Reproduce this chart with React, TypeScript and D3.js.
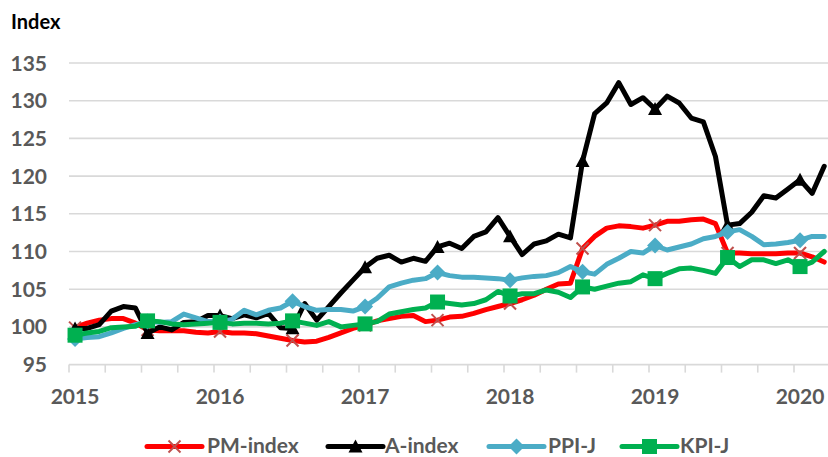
import React from "react";
import * as d3 from "d3";

// ---- data (monthly, Jan 2015 .. Mar 2020) ----
const years = ["2015", "2016", "2017", "2018", "2019", "2020"];
const yTicks = [95, 100, 105, 110, 115, 120, 125, 130, 135];

const pmIndex = [
  99.9, 100.5, 100.9, 101.1, 101.1, 100.5, 99.6, 99.5, 99.5, 99.5, 99.3, 99.2,
  99.4, 99.2, 99.2, 99.1, 98.8, 98.5, 98.2, 98.0, 98.1, 98.6, 99.2, 99.8,
  100.2, 100.8, 101.1, 101.4, 101.5, 100.7, 100.9, 101.3, 101.4, 101.8, 102.3, 102.7,
  103.1, 103.6, 104.2, 105.0, 105.7, 105.8, 110.4, 112.0, 113.1, 113.4, 113.3, 113.1,
  113.5, 114.0, 114.0, 114.2, 114.3, 113.7, 109.8, 109.8, 109.7, 109.7, 109.7, 109.8,
  109.8, 109.3, 108.6,
];
const aIndex = [
  99.8, 99.8, 100.3, 102.1, 102.7, 102.5, 99.2, 100.0, 99.6, 100.6, 100.7, 101.5,
  101.5, 101.1, 101.6, 101.2, 101.8, 99.9, 99.8, 103.1, 100.9, 102.7, 104.5, 106.2,
  107.9, 109.1, 109.5, 108.6, 109.1, 108.7, 110.6, 111.1, 110.4, 112.0, 112.6, 114.5,
  112.0, 109.6, 111.0, 111.4, 112.3, 111.8, 122.0, 128.3, 129.7, 132.4, 129.5, 130.4,
  128.9, 130.6, 129.7, 127.7, 127.2, 122.6, 113.5, 113.7, 115.2, 117.4, 117.1, 118.3,
  119.5, 117.7, 121.3,
];
const ppiJ = [
  98.4, 98.6, 98.7, 99.2, 99.8, 100.3, 100.7, 100.6, 100.7, 101.7, 101.2, 100.7,
  100.7, 101.0, 102.2, 101.6, 102.2, 102.5, 103.4, 102.7, 102.2, 102.3, 102.3, 102.1,
  102.7, 103.8, 105.3, 105.8, 106.2, 106.4, 107.2, 106.8, 106.6, 106.6, 106.5, 106.4,
  106.2, 106.5, 106.7, 106.8, 107.2, 108.0, 107.3, 107.0, 108.3, 109.1, 110.0, 109.8,
  110.8, 110.2, 110.6, 111.0, 111.7, 112.0, 112.6, 112.9, 112.0, 110.9, 111.0, 111.2,
  111.5, 112.0, 112.0,
];
const kpiJ = [
  98.9, 99.2, 99.4, 99.9, 100.0, 100.1, 100.8, 100.7, 100.4, 100.3, 100.4, 100.5,
  100.6, 100.4, 100.5, 100.5, 100.4, 100.5, 100.8, 100.5, 100.2, 100.7, 100.0, 100.2,
  100.4, 100.7, 101.7, 102.0, 102.3, 102.5, 103.3, 103.1, 102.9, 103.1, 103.6, 104.7,
  104.1, 104.4, 104.4, 104.9, 104.6, 103.9, 105.3, 105.0, 105.4, 105.8, 106.0, 106.9,
  106.4, 107.1, 107.7, 107.8, 107.5, 107.1, 109.2, 108.0, 108.9, 108.9, 108.4, 108.9,
  108.0, 108.6, 110.0,
];

type Marker = "x" | "triangle" | "diamond" | "square";
const seriesNames = ["PM-index", "A-index", "PPI-J", "KPI-J"];
const seriesValues = [pmIndex, aIndex, ppiJ, kpiJ];
const seriesColors = ["#FF0000", "#000000", "#4BACC6", "#00B050"];
const seriesMarkers: Marker[] = ["x", "triangle", "diamond", "square"];
const markerColors = ["#C0504D", "#000000", "#4BACC6", "#00B050"];

const FONT = "Lato, 'Open Sans', sans-serif";

function MarkerShape({ type, cx, cy, color }: { type: Marker; cx: number; cy: number; color: string }) {
  if (type === "x") {
    const s = 6;
    return (
      <g stroke={color} strokeWidth={2}>
        <line x1={cx - s} y1={cy - s} x2={cx + s} y2={cy + s} />
        <line x1={cx - s} y1={cy + s} x2={cx + s} y2={cy - s} />
      </g>
    );
  }
  if (type === "triangle") {
    const s = 7;
    return <path d={`M${cx},${cy - s}L${cx + s},${cy + s * 0.85}L${cx - s},${cy + s * 0.85}Z`} fill={color} />;
  }
  if (type === "diamond") {
    const s = 8;
    return <path d={`M${cx},${cy - s}L${cx + s},${cy}L${cx},${cy + s}L${cx - s},${cy}Z`} fill={color} />;
  }
  const s = 7.5;
  return <rect x={cx - s} y={cy - s} width={2 * s} height={2 * s} fill={color} />;
}

export default function App() {
  const W = 828;
  const H = 457;
  const monthW = 145 / 12;
  const plotLeft = 69;
  const plotRight = 834;
  const x = d3.scaleLinear().domain([-0.5, 0.5]).range([plotLeft, plotLeft + monthW]);
  const y = d3.scaleLinear().domain([95, 135]).range([364.6, 63]);

  const line = d3
    .line<number>()
    .x((_, i) => x(i))
    .y((d) => y(d));

  const quarterTicks = d3.range(0, 66, 3).map((m) => x(m - 0.5)).filter((v) => v <= W + 2);

  const legendItems = [
    { lx: 147, tx: 207 },
    { lx: 328, tx: 385 },
    { lx: 489, tx: 548 },
    { lx: 622, tx: 680 },
  ];
  const legendY = 446.5;
  const legendTextY = 445.5;

  return (
    <svg
      width={W}
      height={H}
      style={{ position: "absolute", left: 0, top: 0, background: "#fff" }}
      fontFamily={FONT}
    >
      <rect x={0} y={0} width={W} height={H} fill="#fff" />
      {/* gridlines */}
      {yTicks.map((t) => (
        <line key={t} x1={plotLeft} x2={plotRight} y1={y(t)} y2={y(t)} stroke="#D9D9D9" strokeWidth={1.6} />
      ))}
      {/* x ticks */}
      {quarterTicks.map((tx, i) => (
        <line key={i} x1={tx} x2={tx} y1={y(95)} y2={y(95) + 8} stroke="#D9D9D9" strokeWidth={1.6} />
      ))}
      {/* y labels */}
      {yTicks.map((t) => (
        <text
          key={t}
          x={47}
          y={y(t)}
          dy="0.36em"
          textAnchor="end"
          fontSize={21}
          fontWeight={700}
          fill="#595959"
        >
          {t}
        </text>
      ))}
      {/* x labels */}
      {years.map((yr, i) => (
        <text key={yr} x={x(i * 12)} y={404} textAnchor="middle" fontSize={21} fontWeight={700} fill="#595959">
          {yr}
        </text>
      ))}
      {/* title */}
      <text x={11} y={29} fontSize={20} fontWeight={700} fill="#000">
        Index
      </text>
      {/* series */}
      {seriesValues.map((vals, si) => (
        <g key={seriesNames[si]}>
          <path
            d={line(vals) || ""}
            fill="none"
            stroke={seriesColors[si]}
            strokeWidth={5}
            strokeLinejoin="round"
            strokeLinecap="round"
          />
          {vals.map((v, i) =>
            i % 6 === 0 ? (
              <MarkerShape key={i} type={seriesMarkers[si]} cx={x(i)} cy={y(v)} color={markerColors[si]} />
            ) : null
          )}
        </g>
      ))}
      {/* legend */}
      {legendItems.map((it, si) => (
        <g key={si}>
          <line
            x1={it.lx}
            x2={it.lx + 55}
            y1={legendY}
            y2={legendY}
            stroke={seriesColors[si]}
            strokeWidth={5}
            strokeLinecap="round"
          />
          <MarkerShape type={seriesMarkers[si]} cx={it.lx + 27.5} cy={legendY} color={markerColors[si]} />
          <text x={it.tx} y={legendTextY} dy="0.36em" fontSize={21} fontWeight={700} fill="#595959">
            {seriesNames[si]}
          </text>
        </g>
      ))}
    </svg>
  );
}
